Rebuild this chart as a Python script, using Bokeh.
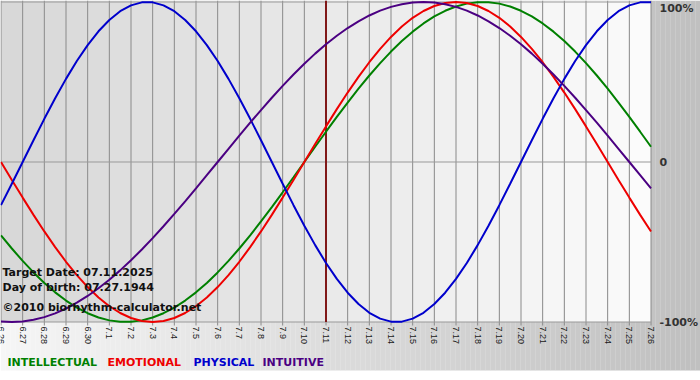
import numpy as np
from bokeh.plotting import figure
from bokeh.models import Range1d
from bokeh.core.properties import value
from bokeh.embed import file_html
from bokeh.resources import INLINE

# ---- data ----
dates = ["6.26", "6.27", "6.28", "6.29", "6.30", "7.1", "7.2", "7.3", "7.4", "7.5",
         "7.6", "7.7", "7.8", "7.9", "7.10", "7.11", "7.12", "7.13", "7.14", "7.15",
         "7.16", "7.17", "7.18", "7.19", "7.20", "7.21", "7.22", "7.23", "7.24", "7.25", "7.26"]

# values read every half day, from 6.26 to 7.26
intellectual = [-0.4582, -0.5406, -0.6182, -0.6901, -0.7557, -0.8146, -0.8660, -0.9096,
                -0.9450, -0.9718, -0.9898, -0.9989, -0.9989, -0.9898, -0.9718, -0.9450,
                -0.9096, -0.8660, -0.8146, -0.7557, -0.6901, -0.6182, -0.5406, -0.4582,
                -0.3717, -0.2817, -0.1893, -0.0951,
                0.0, 0.0951, 0.1893, 0.2817, 0.3717, 0.4582, 0.5406, 0.6182, 0.6901,
                0.7557, 0.8146, 0.8660, 0.9096, 0.9450, 0.9718, 0.9898, 0.9989, 0.9989,
                0.9898, 0.9718, 0.9450, 0.9096, 0.8660, 0.8146, 0.7557, 0.6901, 0.6182,
                0.5406, 0.4582, 0.3717, 0.2817, 0.1893, 0.0951]

emotional = [0.0, -0.1120, -0.2225, -0.3303, -0.4339, -0.5320, -0.6235, -0.7071,
             -0.7818, -0.8467, -0.9010, -0.9439, -0.9749, -0.9937, -1.0, -0.9937,
             -0.9749, -0.9439, -0.9010, -0.8467, -0.7818, -0.7071, -0.6235, -0.5320,
             -0.4339, -0.3303, -0.2225, -0.1120,
             0.0, 0.1120, 0.2225, 0.3303, 0.4339, 0.5320, 0.6235, 0.7071, 0.7818,
             0.8467, 0.9010, 0.9439, 0.9749, 0.9937, 1.0, 0.9937, 0.9749, 0.9439,
             0.9010, 0.8467, 0.7818, 0.7071, 0.6235, 0.5320, 0.4339, 0.3303, 0.2225,
             0.1120, 0.0, -0.1120, -0.2225, -0.3303, -0.4339]

physical = [-0.2698, -0.1362, 0.0, 0.1362, 0.2698, 0.3984, 0.5196, 0.6311, 0.7308,
            0.8170, 0.8879, 0.9423, 0.9791, 0.9977, 0.9977, 0.9791, 0.9423, 0.8879,
            0.8170, 0.7308, 0.6311, 0.5196, 0.3984, 0.2698, 0.1362, 0.0, -0.1362,
            -0.2698, -0.3984, -0.5196, -0.6311, -0.7308, -0.8170, -0.8879, -0.9423,
            -0.9791, -0.9977, -0.9977, -0.9791, -0.9423, -0.8879, -0.8170, -0.7308,
            -0.6311, -0.5196, -0.3984, -0.2698, -0.1362, 0.0, 0.1362, 0.2698, 0.3984,
            0.5196, 0.6311, 0.7308, 0.8170, 0.8879, 0.9423, 0.9791, 0.9977, 0.9977]

intuitive = [-0.9966, -1.0, -0.9966, -0.9864, -0.9694, -0.9458, -0.9158, -0.8795,
             -0.8372, -0.7891, -0.7357, -0.6773, -0.6142, -0.5469, -0.4759, -0.4017,
             -0.3247, -0.2455, -0.1646, -0.0826,
             0.0, 0.0826, 0.1646, 0.2455, 0.3247, 0.4017, 0.4759, 0.5469, 0.6142,
             0.6773, 0.7357, 0.7891, 0.8372, 0.8795, 0.9158, 0.9458, 0.9694, 0.9864,
             0.9966, 1.0, 0.9966, 0.9864, 0.9694, 0.9458, 0.9158, 0.8795, 0.8372,
             0.7891, 0.7357, 0.6773, 0.6142, 0.5469, 0.4759, 0.4017, 0.3247, 0.2455,
             0.1646, 0.0826, 0.0, -0.0826, -0.1646]

series_names = ["INTELLECTUAL", "EMOTIONAL", "PHYSICAL", "INTUITIVE"]
series_colors = ["#008000", "#ee0000", "#0000cc", "#4b0082"]
y_tick_values = [1.0, 0.0, -1.0]
y_tick_labels = ["100%", "0", "-100%"]
target_date = "7.11"
notes = ["Target Date: 07.11.2025", "Day of birth: 07.27.1944", "©2010 biorhythm-calculator.net"]

# ---- layout ----
W, H = 700, 380
n = len(dates)
xi = list(range(n))
xs = [k * 0.5 for k in range(len(physical))]   # half-day sample positions
ppd = 650.0 / (n - 1)           # pixels per day
ppu = 160.0                     # pixels per unit (100%)
x_start = -0.5 / ppd
x_end = x_start + W / ppd
y_top = 161.5 / ppu
y_bot = (161.5 - H) / ppu


def px_x(px):
    return x_start + px / ppd


def px_y(py):
    return (161.5 - py) / ppu


p = figure(width=W, height=H, x_range=Range1d(x_start, x_end), y_range=Range1d(y_bot, y_top),
           output_backend="svg", toolbar_location=None, min_border=0)
p.axis.visible = False
p.grid.visible = False
p.outline_line_color = None
p.background_fill_color = "white"
p.border_fill_color = "white"

# outer gradient background (light at left, darker at right)
edges = np.linspace(x_start, x_end, 141)
g = np.linspace(246, 192, 140).astype(int)
p.quad(left=edges[:-1], right=edges[1:] + 0.01, top=y_top, bottom=px_y(370),
       fill_color=["#%02x%02x%02x" % (v, v, v) for v in g], line_color=None)

# plot area: per-day columns darker at left, lighter at right
cg = np.linspace(216, 251, n - 1).astype(int)
p.quad(left=xi[:-1], right=xi[1:], top=y_top, bottom=-1.0,
       fill_color=["#%02x%02x%02x" % (v, v, v) for v in cg], line_color=None)

# vertical grid lines + ticks
p.segment(x0=xi, y0=px_y(325), x1=xi, y1=y_top, line_color="#8a8a8a", line_width=1)
# horizontal lines
p.segment(x0=[0] * 3, y0=y_tick_values, x1=[n - 1] * 3, y1=y_tick_values,
          line_color="#999999", line_width=1)

# target date line
ti = dates.index(target_date)
p.segment(x0=[ti], y0=[-1.0], x1=[ti], y1=[y_top], line_color="#801818", line_width=2)

# curves
for vals, col in zip([intellectual, emotional, physical, intuitive], series_colors):
    p.line(xs, vals, line_color=col, line_width=2)

# x tick labels (rotated, reading top to bottom)
p.text(x=xi, y=[px_y(326)] * n, text=dates, angle=-np.pi / 2, text_align="left",
       text_baseline="middle", text_font=value("Liberation Sans"), text_font_size="9px",
       text_color="#1a1a1a")

# y labels
p.text(x=[px_x(659)], y=[y_tick_values[0]], text=[y_tick_labels[0]], text_align="left",
       text_baseline="top", text_font=value("DejaVu Sans"), text_font_style="bold",
       text_font_size="11px", text_color="#333333")
p.text(x=[px_x(659)] * 2, y=y_tick_values[1:], text=y_tick_labels[1:], text_align="left",
       text_baseline="middle", text_font=value("DejaVu Sans"), text_font_style="bold",
       text_font_size="11px", text_color="#333333")

# notes
p.text(x=[px_x(2)] * 3, y=[px_y(272), px_y(287), px_y(307)], text=notes, text_align="left",
       text_baseline="middle", text_font=value("DejaVu Sans"), text_font_style="bold",
       text_font_size="11px", text_color="#111111")

# legend texts
p.text(x=[px_x(7), px_x(107), px_x(193), px_x(262)], y=[px_y(362)] * 4, text=series_names,
       text_align="left", text_baseline="middle", text_font=value("DejaVu Sans"),
       text_font_style="bold", text_font_size="11px", text_color=series_colors)

open("out.html", "w").write(file_html(p, INLINE))
